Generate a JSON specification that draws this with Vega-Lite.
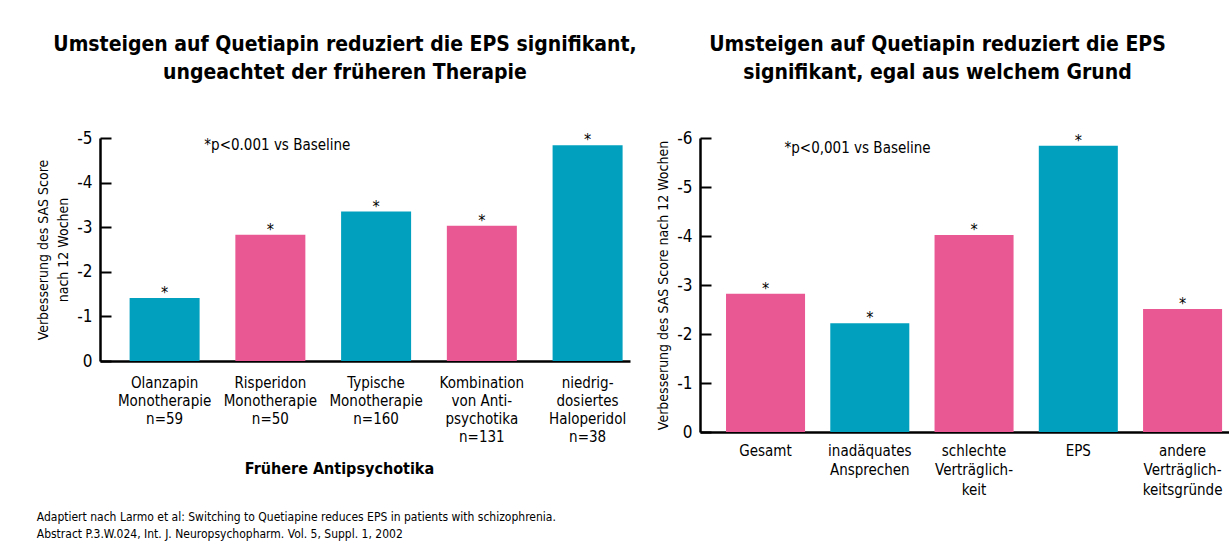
{
  "$schema": "https://vega.github.io/schema/vega-lite/v6.json",
  "background": "white",
  "padding": {"left": 36, "top": 34, "right": 0, "bottom": 6},
  "spacing": 19,
  "config": {
    "font": "'Liberation Sans Narrow', 'DejaVu Sans Condensed', sans-serif",
    "view": {"stroke": null},
    "axis": {
      "domainColor": "black",
      "domainWidth": 2.5,
      "tickColor": "black",
      "tickWidth": 2,
      "labelColor": "black",
      "titleColor": "black",
      "grid": false,
      "titleFontWeight": "normal"
    }
  },
  "datasets": {
    "links": [
      {"therapie": "Olanzapin|Monotherapie|n=59", "wert": -1.41, "gruppe": "A"},
      {"therapie": "Risperidon|Monotherapie|n=50", "wert": -2.83, "gruppe": "B"},
      {"therapie": "Typische|Monotherapie|n=160", "wert": -3.35, "gruppe": "A"},
      {"therapie": "Kombination|von Anti-|psychotika|n=131", "wert": -3.03, "gruppe": "B"},
      {"therapie": "niedrig-|dosiertes|Haloperidol|n=38", "wert": -4.84, "gruppe": "A"}
    ],
    "rechts": [
      {"grund": "Gesamt", "wert": -2.82, "gruppe": "B"},
      {"grund": "inadäquates|Ansprechen", "wert": -2.22, "gruppe": "A"},
      {"grund": "schlechte|Verträglich-|keit", "wert": -4.02, "gruppe": "B"},
      {"grund": "EPS", "wert": -5.84, "gruppe": "A"},
      {"grund": "andere|Verträglich-|keitsgründe", "wert": -2.51, "gruppe": "B"}
    ],
    "notiz_links": [{"therapie": "Risperidon|Monotherapie|n=50", "wert": -4.85, "text": "*p<0.001 vs Baseline"}],
    "notiz_rechts": [{"grund": "Gesamt", "wert": -5.8, "text": "*p<0,001 vs Baseline"}]
  },
  "title": {
    "text": ["Adaptiert nach Larmo et al: Switching to Quetiapine reduces EPS in patients with schizophrenia.", "Abstract P.3.W.024, Int. J. Neuropsychopharm. Vol. 5, Suppl. 1, 2002"],
    "orient": "bottom",
    "anchor": "start",
    "frame": "bounds",
    "fontSize": 12,
    "fontWeight": "normal",
    "lineHeight": 17,
    "offset": 15,
    "dx": 0,
    "color": "black"
  },
  "hconcat": [
    {
      "width": 530,
      "height": 223,
      "title": {
        "text": ["Umsteigen auf Quetiapin reduziert die EPS signifikant,", "ungeachtet der früheren Therapie"],
        "fontSize": 21,
        "fontWeight": "bold",
        "lineHeight": 28,
        "anchor": "middle",
        "frame": "group",
        "dx": -20,
        "offset": 46,
        "color": "black"
      },
      "layer": [
        {
          "data": {"name": "links"},
          "mark": {"type": "bar"},
          "encoding": {
            "x": {
              "field": "therapie", "type": "nominal", "sort": null,
              "scale": {"paddingInner": 0.338, "paddingOuter": 0.175, "align": 0.8},
              "axis": {
                "title": "Frühere Antipsychotika",
                "titleFontSize": 16,
                "titleFontWeight": "bold",
                "titleX": 239,
                "titlePadding": 16,
                "labelExpr": "split(datum.label, '|')",
                "labelFontSize": 15,
                "labelLineHeight": 18,
                "labelAngle": 0,
                "labelPadding": 14,
                "ticks": false
              }
            },
            "y": {
              "field": "wert", "type": "quantitative",
              "scale": {"domain": [-5, 0], "reverse": true, "nice": false},
              "axis": {
                "title": ["Verbesserung des SAS Score", "nach 12 Wochen"],
                "titleFontSize": 14,
                "titleLineHeight": 20,
                "titlePadding": 6,
                "values": [-5, -4, -3, -2, -1, 0],
                "labelExpr": "datum.value < 0 ? '-' + abs(datum.value) : '0'",
                "labelFontSize": 17,
                "tickSize": -11,
                "labelPadding": 19
              }
            },
            "color": {
              "field": "gruppe", "type": "nominal",
              "scale": {"domain": ["A", "B"], "range": ["#00A0BE", "#EA5893"]},
              "legend": null
            }
          }
        },
        {
          "data": {"name": "links"},
          "mark": {"type": "text", "text": "*", "dy": 3, "baseline": "bottom", "fontSize": 16, "color": "black"},
          "encoding": {
            "x": {"field": "therapie", "type": "nominal", "sort": null},
            "y": {"field": "wert", "type": "quantitative"}
          }
        },
        {
          "data": {"name": "notiz_links"},
          "mark": {"type": "text", "align": "left", "baseline": "middle", "dx": -66, "fontSize": 15, "color": "black"},
          "encoding": {
            "x": {"field": "therapie", "type": "nominal", "sort": null},
            "y": {"field": "wert", "type": "quantitative"},
            "text": {"field": "text"}
          }
        }
      ]
    },
    {
      "width": 529,
      "height": 294,
      "title": {
        "text": ["Umsteigen auf Quetiapin reduziert die EPS", "signifikant, egal aus welchem Grund"],
        "fontSize": 21,
        "fontWeight": "bold",
        "lineHeight": 28,
        "anchor": "middle",
        "frame": "group",
        "dx": -27,
        "offset": 46,
        "color": "black"
      },
      "layer": [
        {
          "data": {"name": "rechts"},
          "mark": {"type": "bar"},
          "encoding": {
            "x": {
              "field": "grund", "type": "nominal", "sort": null,
              "scale": {"paddingInner": 0.242, "paddingOuter": 0.158, "align": 0.79},
              "axis": {
                "title": null,
                "labelExpr": "split(datum.label, '|')",
                "labelFontSize": 15,
                "labelLineHeight": 19.5,
                "labelAngle": 0,
                "labelPadding": 11,
                "ticks": false
              }
            },
            "y": {
              "field": "wert", "type": "quantitative",
              "scale": {"domain": [-6, 0], "reverse": true, "nice": false},
              "axis": {
                "title": "Verbesserung des SAS Score nach 12 Wochen",
                "titleFontSize": 14,
                "titlePadding": 6,
                "values": [-6, -5, -4, -3, -2, -1, 0],
                "labelExpr": "datum.value < 0 ? '-' + abs(datum.value) : '0'",
                "labelFontSize": 17,
                "tickSize": -11,
                "labelPadding": 19
              }
            },
            "color": {
              "field": "gruppe", "type": "nominal",
              "scale": {"domain": ["A", "B"], "range": ["#00A0BE", "#EA5893"]},
              "legend": null
            }
          }
        },
        {
          "data": {"name": "rechts"},
          "mark": {"type": "text", "text": "*", "dy": 3, "baseline": "bottom", "fontSize": 16, "color": "black"},
          "encoding": {
            "x": {"field": "grund", "type": "nominal", "sort": null},
            "y": {"field": "wert", "type": "quantitative"}
          }
        },
        {
          "data": {"name": "notiz_rechts"},
          "mark": {"type": "text", "align": "left", "baseline": "middle", "dx": 19, "fontSize": 15, "color": "black"},
          "encoding": {
            "x": {"field": "grund", "type": "nominal", "sort": null},
            "y": {"field": "wert", "type": "quantitative"},
            "text": {"field": "text"}
          }
        }
      ]
    }
  ]
}
